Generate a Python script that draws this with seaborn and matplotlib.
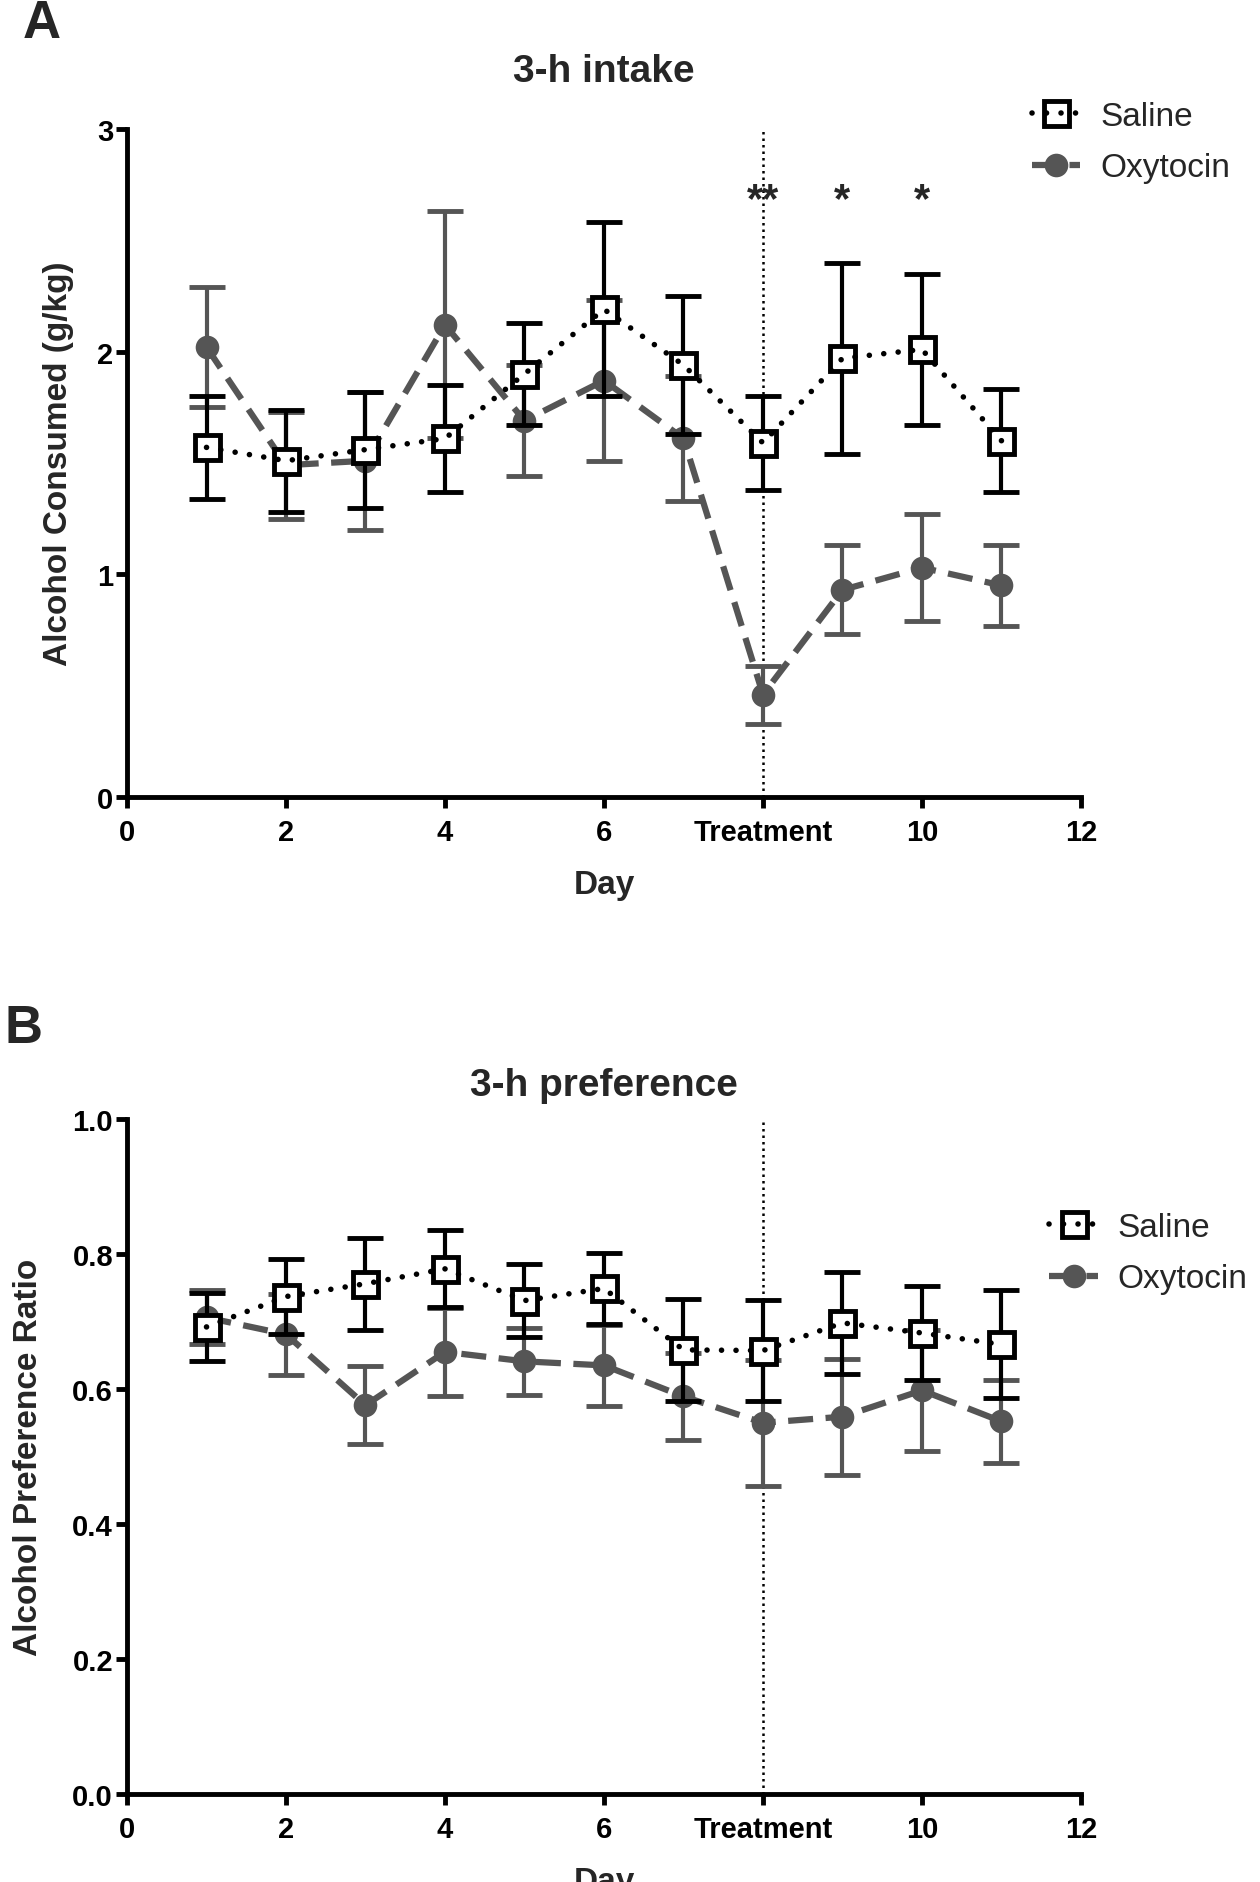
import matplotlib
matplotlib.use("Agg")
import matplotlib.pyplot as plt
import seaborn as sns

# Days of the experiment, treatment started on day 8
days = [1, 2, 3, 4, 5, 6, 7, 8, 9, 10, 11]
treatment_day = 8
xtick_vals = [0, 2, 4, 6, 8, 10, 12]
xtick_labels = ["0", "2", "4", "6", "Treatment", "10", "12"]

# A: 3-h intake (g/kg), mean and SEM
intake_saline = [1.57, 1.51, 1.56, 1.61, 1.90, 2.19, 1.94, 1.59, 1.97, 2.01, 1.60]
intake_saline_sem = [0.23, 0.23, 0.26, 0.24, 0.23, 0.39, 0.31, 0.21, 0.43, 0.34, 0.23]
intake_oxy = [2.02, 1.49, 1.51, 2.12, 1.69, 1.87, 1.61, 0.46, 0.93, 1.03, 0.95]
intake_oxy_sem = [0.27, 0.24, 0.31, 0.51, 0.25, 0.36, 0.28, 0.13, 0.20, 0.24, 0.18]
intake_yticks = [0, 1, 2, 3]
intake_ylabels = ["0", "1", "2", "3"]

# significance marks on panel A
star_days = [8, 9, 10]
star_labels = ["**", "*", "*"]
star_level = 2.68

# B: 3-h preference ratio, mean and SEM
pref_saline = [0.692, 0.737, 0.756, 0.778, 0.731, 0.749, 0.658, 0.657, 0.698, 0.683, 0.666]
pref_saline_sem = [0.05, 0.055, 0.068, 0.057, 0.054, 0.052, 0.075, 0.075, 0.075, 0.07, 0.08]
pref_oxy = [0.706, 0.681, 0.576, 0.655, 0.641, 0.635, 0.589, 0.550, 0.559, 0.598, 0.552]
pref_oxy_sem = [0.04, 0.06, 0.058, 0.065, 0.05, 0.06, 0.064, 0.093, 0.086, 0.09, 0.062]
pref_yticks = [0.0, 0.2, 0.4, 0.6, 0.8, 1.0]
pref_ylabels = ["0.0", "0.2", "0.4", "0.6", "0.8", "1.0"]

sns.set_theme(style="ticks")
plt.rcParams["font.family"] = ["Liberation Sans", "DejaVu Sans"]

GRAY = "#555555"
DOTS = (0, (0.01, 2.6))
DASHES = (0, (4, 2))


def draw_panel(ax, saline, saline_sem, oxy, oxy_sem, yticks, ylabels, ylabel,
               title, title_y, ylabel_x, legend_xy):
    # oxytocin group (gray, dashed, filled circles)
    ax.errorbar(days, oxy, yerr=oxy_sem, fmt="none", ecolor=GRAY,
                elinewidth=3, capsize=13, capthick=3.5, zorder=2)
    sns.lineplot(x=days, y=oxy, ax=ax, color=GRAY, linestyle=DASHES,
                 linewidth=4.5, marker="o", markersize=17, markerfacecolor=GRAY,
                 markeredgecolor=GRAY, markeredgewidth=0, errorbar=None, zorder=3)
    h_oxy = ax.lines[-1]

    # saline group (black, dotted, open squares)
    ax.errorbar(days, saline, yerr=saline_sem, fmt="none", ecolor="black",
                elinewidth=3, capsize=13, capthick=3.5, zorder=4)
    sns.lineplot(x=days, y=saline, ax=ax, color="black", linestyle="none",
                 marker="s", markersize=18, markerfacecolor="white",
                 markeredgecolor="black", markeredgewidth=3.5, errorbar=None, zorder=5)
    h_sq = ax.lines[-1]
    sns.lineplot(x=days, y=saline, ax=ax, color="black", linestyle=DOTS,
                 linewidth=4, dash_capstyle="round", errorbar=None, zorder=6)
    h_dot = ax.lines[-1]

    ax.axvline(treatment_day, color="black", linestyle=(0, (1, 1.6)), linewidth=1.8, zorder=1)

    ax.set_xlim(0, 12)
    ax.set_ylim(yticks[0], yticks[-1])
    ax.set_xticks(xtick_vals)
    ax.set_xticklabels(xtick_labels)
    ax.set_yticks(yticks)
    ax.set_yticklabels(ylabels)
    sns.despine(ax=ax)
    for side in ["left", "bottom"]:
        ax.spines[side].set_linewidth(3.5)
        ax.spines[side].set_color("black")
    ax.tick_params(axis="both", width=3.5, length=8, labelsize=21, colors="black")
    ax.tick_params(axis="x", pad=7)
    ax.tick_params(axis="y", pad=2)
    for lab in ax.get_xticklabels() + ax.get_yticklabels():
        lab.set_fontweight("bold")

    ax.set_xlabel("Day", fontsize=24, fontweight="bold")
    ax.xaxis.set_label_coords(0.5, -0.107)
    ax.set_ylabel(ylabel, fontsize=24, fontweight="bold")
    ax.yaxis.set_label_coords(ylabel_x, 0.5)
    ax.text(0.5, title_y, title, transform=ax.transAxes, ha="center", va="center",
            fontsize=28, fontweight="bold")

    ax.legend([(h_sq, h_dot), h_oxy], ["Saline", "Oxytocin"], loc="upper left",
              bbox_to_anchor=legend_xy, bbox_transform=ax.figure.transFigure,
              frameon=False, fontsize=24, handlelength=1.45, handletextpad=0.6,
              labelspacing=0.62)


fig = plt.figure(figsize=(12.6, 18.83), dpi=100)
ax_a = fig.add_axes([0.1008, 0.5762, 0.7571, 0.3548])
ax_b = fig.add_axes([0.1008, 0.0467, 0.7571, 0.3585])

draw_panel(ax_a, intake_saline, intake_saline_sem, intake_oxy, intake_oxy_sem,
           intake_yticks, intake_ylabels, "Alcohol Consumed (g/kg)",
           "3-h intake", 1.087, -0.0555, (0.795, 0.962))
for d, s in zip(star_days, star_labels):
    ax_a.text(d, star_level, s, ha="center", va="center", fontsize=30, fontweight="bold")

draw_panel(ax_b, pref_saline, pref_saline_sem, pref_oxy, pref_oxy_sem,
           pref_yticks, pref_ylabels, "Alcohol Preference Ratio",
           "3-h preference", 1.05, -0.087, (0.809, 0.372))

fig.text(0.033, 0.987, "A", fontsize=38, fontweight="bold", ha="center", va="center")
fig.text(0.019, 0.4535, "B", fontsize=38, fontweight="bold", ha="center", va="center")

fig.savefig("out.png", dpi=100)
print("saved out.png")
